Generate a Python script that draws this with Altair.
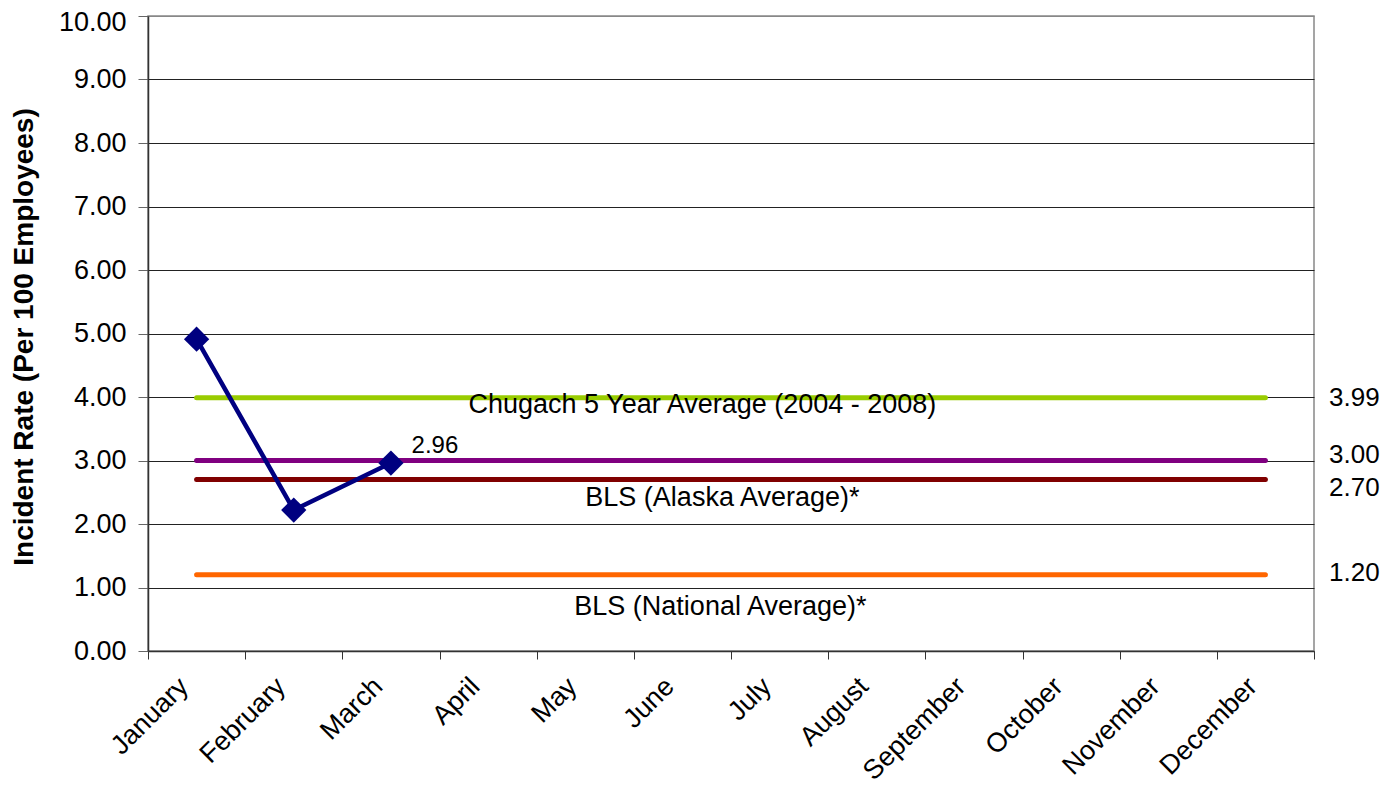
import altair as alt
import pandas as pd

months = ["January", "February", "March", "April", "May", "June", "July",
          "August", "September", "October", "November", "December"]

observed_months = ["January", "February", "March"]
incident_rate = [4.91, 2.22, 2.96]

ref_names = ["Chugach 5 Year Average (2004 - 2008)", "Goal",
             "BLS (Alaska Average)*", "BLS (National Average)*"]
ref_values = [3.99, 3.00, 2.70, 1.20]
ref_colors = ["#99CC00", "#800080", "#800000", "#FF6600"]
ref_label_pos = [3.98, 3.08, 2.57, 1.23]

caption_texts = ["Chugach 5 Year Average (2004 - 2008)",
                 "BLS (Alaska Average)*", "BLS (National Average)*"]
caption_pos = [3.87, 2.41, 0.69]
caption_month = ["June", "June", "June"]

FONT = "Liberation Sans"
W, H = 1166, 635

ref_rows = []
for n, v in zip(ref_names, ref_values):
    for m in (months[0], months[-1]):
        ref_rows.append({"month": m, "value": v, "name": n})
ref_df = pd.DataFrame(ref_rows)

obs_df = pd.DataFrame({"month": observed_months, "value": incident_rate})

xscale = alt.Scale(type="band", domain=months, paddingInner=0, paddingOuter=0)
yscale = alt.Scale(domain=[0, 10], nice=False, zero=True)

xaxis = alt.Axis(title=None, labelAngle=-45, labelAlign="right", labelBaseline="middle",
                 tickBand="extent", tickSize=8, labelFontSize=27, labelFont=FONT,
                 labelColor="black", domainColor="#333", tickColor="#333",
                 domainWidth=1.5, grid=False, labelPadding=23, labelOffset=-13)
yaxis = alt.Axis(title="Incident Rate (Per 100 Employees)", values=list(range(0, 11)),
                 format=".2f", labelFontSize=27, labelFont=FONT, labelColor="black",
                 labelPadding=12, tickSize=10, tickColor="#666", domainColor="#333",
                 domainWidth=1.5,
                 labelOffset={"condition": {"test": "datum.value === 10", "value": 6},
                              "value": 0},
                 gridColor={"condition": {"test": "datum.value === 10", "value": "#888"},
                            "value": "#222"},
                 gridWidth=1,
                 titleFont=FONT, titleFontSize=28, titleFontWeight="bold",
                 titleColor="black", titleX=-124, titleY=H / 2 + 3,
                 titleBaseline="middle", titleAlign="center")

ref_lines = alt.Chart(ref_df).mark_line(strokeWidth=5, strokeCap="round").encode(
    x=alt.X("month:N", sort=months, scale=xscale, axis=xaxis),
    y=alt.Y("value:Q", scale=yscale, axis=yaxis),
    color=alt.Color("name:N", scale=alt.Scale(domain=ref_names, range=ref_colors), legend=None),
    detail="name:N",
)

obs_line = alt.Chart(obs_df).mark_line(
    color="#000080", strokeWidth=4.5,
    point=alt.OverlayMarkDef(shape="diamond", size=640, filled=True, color="#000080", opacity=1),
).encode(
    x=alt.X("month:N", sort=months, scale=xscale),
    y=alt.Y("value:Q", scale=yscale),
)

data_label = alt.Chart(obs_df).transform_filter(
    alt.datum.month == observed_months[-1]
).mark_text(font=FONT, fontSize=24, color="black", align="center", baseline="middle",
            dx=44, dy=-17).encode(
    x=alt.X("month:N", sort=months, scale=xscale),
    y=alt.Y("value:Q", scale=yscale),
    text=alt.Text("value:Q", format=".2f"),
)

right_df = pd.DataFrame({"value": ref_label_pos, "label": [f"{v:.2f}" for v in ref_values]})
right_labels = alt.Chart(right_df).mark_text(
    font=FONT, fontSize=26, color="black", align="left", baseline="middle"
).encode(
    x=alt.value(W + 15),
    y=alt.Y("value:Q", scale=yscale),
    text="label:N",
)

caption_dx = [20, 40, 38]
captions = []
for t, p, m, d in zip(caption_texts, caption_pos, caption_month, caption_dx):
    cdf = pd.DataFrame({"month": [m], "value": [p], "label": [t]})
    captions.append(
        alt.Chart(cdf).mark_text(font=FONT, fontSize=27, color="black",
                                 align="center", baseline="middle", dx=d).encode(
            x=alt.X("month:N", sort=months, scale=xscale),
            y=alt.Y("value:Q", scale=yscale),
            text="label:N",
        )
    )

chart = alt.layer(ref_lines, obs_line, *captions, data_label, right_labels).properties(
    width=W, height=H,
    autosize=alt.AutoSizeParams(type="none"),
    padding={"left": 140, "top": 8, "right": 67, "bottom": 137},
    background="white",
).configure_view(stroke="#888", strokeWidth=1.5)

chart.save("out.html", embed_options={"renderer": "svg", "actions": False})
